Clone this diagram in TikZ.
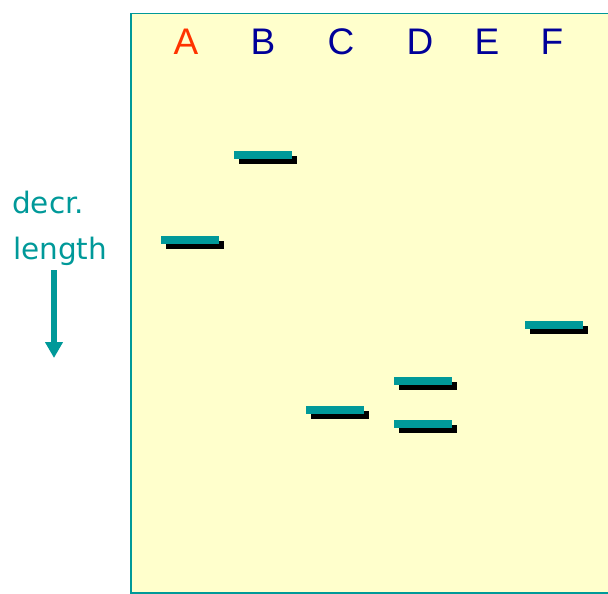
\documentclass[tikz,border=0pt]{standalone}
\usepackage{fontspec}
\setmainfont{Liberation Sans}
\newfontfamily\handfont{DejaVu Sans}
\usetikzlibrary{arrows.meta}
\definecolor{gelteal}{HTML}{009999}
\definecolor{gelbg}{HTML}{FFFFCC}
\definecolor{lanered}{HTML}{FF3300}
\definecolor{laneblue}{HTML}{000099}
\begin{document}
\begin{tikzpicture}[x=1pt,y=-1pt,
  bandbar/.style={fill=gelteal, draw=none, minimum width=58pt, minimum height=8pt, inner sep=0pt, outer sep=0pt, anchor=north west},
  bandshadow/.style={fill=black, draw=none, minimum width=58pt, minimum height=8pt, inner sep=0pt, outer sep=0pt, anchor=north west},
  lanelabel/.style={font=\fontsize{37}{40}\selectfont, anchor=base, inner sep=0pt},
  sidelabel/.style={font=\handfont\fontsize{29.5}{32}\selectfont, text=gelteal, anchor=base west, inner sep=0pt},
]
\useasboundingbox (0,0) rectangle (608,594);
\clip (0,0) rectangle (608,594);
% gel
\draw[gelteal, line width=1.5pt, fill=gelbg] (131,13.5) rectangle (640,593);
% lane labels
\node[lanelabel, text=lanered]  (laneA) at (186,55) {A};
\node[lanelabel, text=laneblue] (laneB) at (263,55) {B};
\node[lanelabel, text=laneblue] (laneC) at (341,55) {C};
\node[lanelabel, text=laneblue] (laneD) at (420,55) {D};
\node[lanelabel, text=laneblue] (laneE) at (487,55) {E};
\node[lanelabel, text=laneblue] (laneF) at (552,55) {F};
% bands (shadow first, then teal bar)
\foreach \nm/\bx/\by in {A/161/236, B/234/151, C/306/406, Dup/394/377, Dlo/394/420, F/525/321}{
  \node[bandshadow] (shadow\nm) at (\bx+5,\by+5) {};
  \node[bandbar] (band\nm) at (\bx,\by) {};
}
% side label and arrow
\node[sidelabel] (decr) at (12,213) {decr.};
\node[sidelabel] (length) at (13,259) {length};
\coordinate (arrtop) at (54,270);
\coordinate (arrtip) at (54,358);
\draw[gelteal, line width=6pt, -{Triangle[width=17pt,length=16pt]}] (arrtop) -- (arrtip);
\end{tikzpicture}
\end{document}
